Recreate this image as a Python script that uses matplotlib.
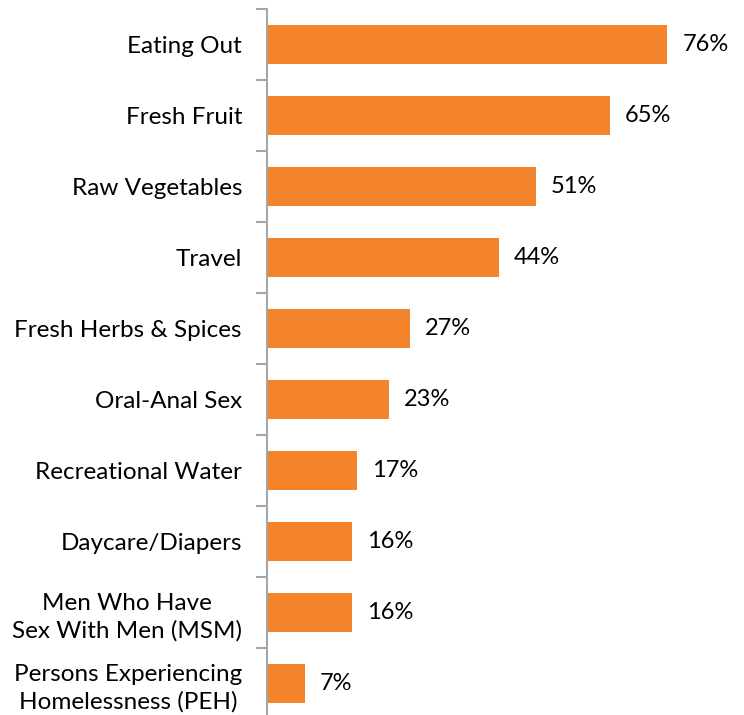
import matplotlib.pyplot as plt
import numpy as np

plt.rcParams['font.family'] = ['Lato', 'DejaVu Sans']

categories = ['Eating Out', 'Fresh Fruit', 'Raw Vegetables', 'Travel',
              'Fresh Herbs & Spices', 'Oral-Anal Sex', 'Recreational Water',
              'Daycare/Diapers', 'Men Who Have\nSex With Men (MSM)',
              'Persons Experiencing\nHomelessness (PEH)']
percent = [76, 65, 51, 44, 27, 23, 17, 16, 16, 7]

fig = plt.figure(figsize=(7.44, 7.15), dpi=100)
ax = fig.add_axes([267 / 744, -4 / 715, 1 - 267 / 744, 710 / 715])

y = np.arange(len(categories))
ax.barh(y, percent, height=0.54, color='#F4842C', left=0.15)

for yi, v in zip(y, percent):
    ax.text(v + 3.0, yi, f'{v}%', va='center', ha='left', fontsize=17)

ax.set_ylim(len(categories) - 0.5, -0.5)
ax.set_xlim(0, 90.7)
ax.set_yticks(y)
ax.set_yticklabels(categories, fontsize=17.5, multialignment='center', linespacing=1.35)
ax.set_yticks(np.arange(len(categories) + 1) - 0.5, minor=True)
ax.tick_params(axis='y', which='major', length=0, pad=18)
ax.tick_params(axis='y', which='minor', length=8, width=1.5, color='#A6A6A6')
ax.set_xticks([])

for side in ['top', 'right', 'bottom']:
    ax.spines[side].set_visible(False)
ax.spines['left'].set_color('#A6A6A6')
ax.spines['left'].set_linewidth(1.5)

fig.savefig('out.png', dpi=100)
